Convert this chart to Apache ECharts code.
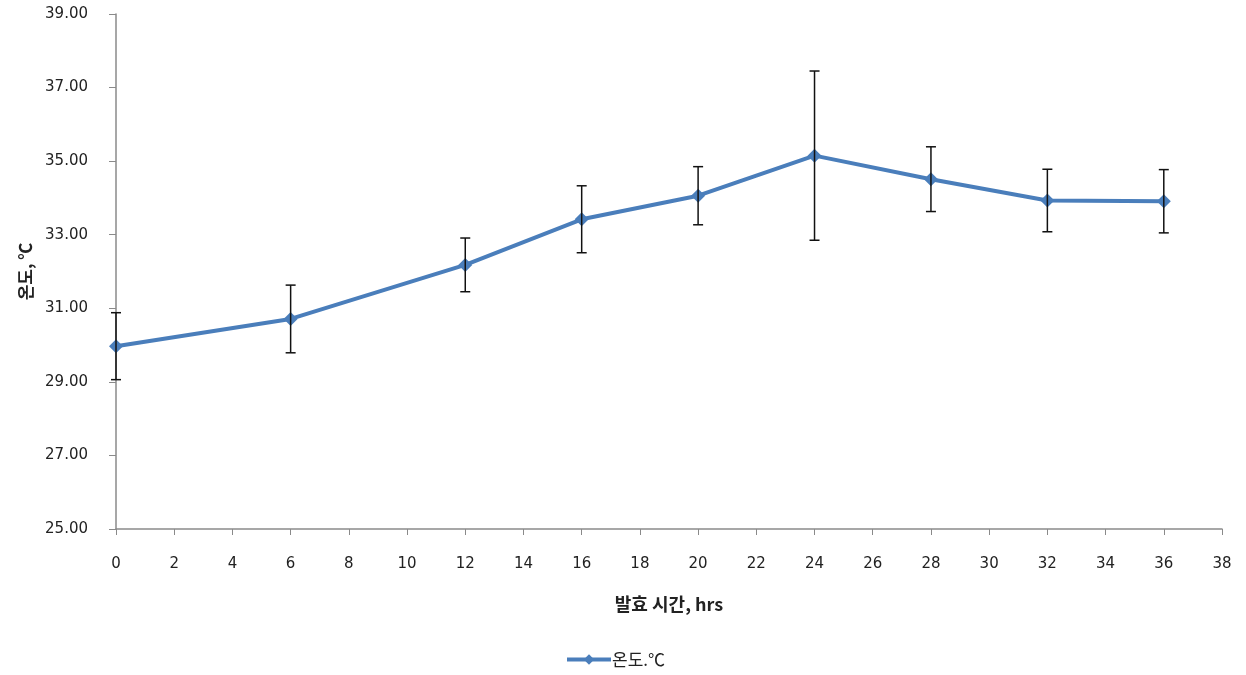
<!DOCTYPE html>
<html>
<head>
<meta charset="utf-8">
<script src="https://cdn.jsdelivr.net/npm/echarts@6/dist/echarts.min.js"></script>
<style>
  html, body { margin: 0; padding: 0; background: #fff; }
  #chart { width: 1246px; height: 675px; }
</style>
</head>
<body>
<div id="chart"></div>
<script>
// Fermentation time (hrs), mean temperature (°C) and its standard deviation
const hours = [0, 6, 12, 16, 20, 24, 28, 32, 36];
const temps = [29.97, 30.71, 32.18, 33.42, 34.06, 35.15, 34.51, 33.93, 33.91];
const errors = [0.91, 0.92, 0.73, 0.91, 0.79, 2.30, 0.88, 0.85, 0.86];
const seriesName = '온도.℃';

const krFont = '"Noto Sans CJK KR", sans-serif';
const numFont = '"DejaVu Sans", "Noto Sans CJK KR", sans-serif';
const lineData = hours.map((h, i) => [h, temps[i]]);
const errData = hours.map((h, i) => [h, temps[i] - errors[i], temps[i] + errors[i]]);

const chart = echarts.init(document.getElementById('chart'));
chart.setOption({
  animation: false,
  backgroundColor: '#fff',
  grid: { left: 116, right: 24, top: 14, bottom: 146 },
  legend: {
    bottom: 2,
    left: 560,
    itemWidth: 44,
    itemHeight: 13,
    itemGap: 4,
    lineStyle: { width: 4 },
    textStyle: { fontFamily: krFont, fontSize: 17, color: '#222', padding: [0, 0, 0, -4] },
    data: [seriesName]
  },
  xAxis: {
    type: 'value',
    min: 0, max: 38, interval: 2,
    name: '발효 시간, hrs',
    nameLocation: 'middle',
    nameGap: 66,
    nameTextStyle: { fontFamily: krFont, fontSize: 18, fontWeight: 'bold', color: '#222' },
    axisLine: { lineStyle: { color: '#8a8a8a', width: 1.5 } },
    axisTick: { inside: false, length: 6, lineStyle: { color: '#8a8a8a' } },
    axisLabel: { fontFamily: numFont, fontSize: 15, color: '#222', margin: 28 },
    splitLine: { show: false }
  },
  yAxis: {
    type: 'value',
    min: 25, max: 39, interval: 2,
    name: '온도, ℃',
    nameLocation: 'middle',
    nameGap: 80,
    nameTextStyle: { fontFamily: krFont, fontSize: 17, fontWeight: 'bold', color: '#222' },
    axisLine: { show: true, lineStyle: { color: '#8a8a8a', width: 1.5 } },
    axisTick: { show: true, length: 7, lineStyle: { color: '#8a8a8a' } },
    axisLabel: {
      fontFamily: numFont, fontSize: 15, color: '#222', margin: 28,
      formatter: v => v.toFixed(2)
    },
    splitLine: { show: false }
  },
  series: [
    {
      name: seriesName,
      type: 'line',
      data: lineData,
      symbol: 'diamond',
      symbolSize: 14,
      lineStyle: { color: '#4a7ebb', width: 4 },
      itemStyle: { color: '#4a7ebb' },
      z: 2
    },
    {
      name: 'errorbars',
      type: 'custom',
      data: errData,
      z: 3,
      silent: true,
      renderItem: (params, api) => {
        const x = api.value(0);
        const lo = api.coord([x, api.value(1)]);
        const hi = api.coord([x, api.value(2)]);
        const cap = 5;
        const style = { stroke: '#111', lineWidth: 1.5 };
        return {
          type: 'group',
          children: [
            { type: 'line', shape: { x1: hi[0], y1: hi[1], x2: lo[0], y2: lo[1] }, style },
            { type: 'line', shape: { x1: hi[0] - cap, y1: hi[1], x2: hi[0] + cap, y2: hi[1] }, style },
            { type: 'line', shape: { x1: lo[0] - cap, y1: lo[1], x2: lo[0] + cap, y2: lo[1] }, style }
          ]
        };
      }
    }
  ]
});
</script>
</body>
</html>
